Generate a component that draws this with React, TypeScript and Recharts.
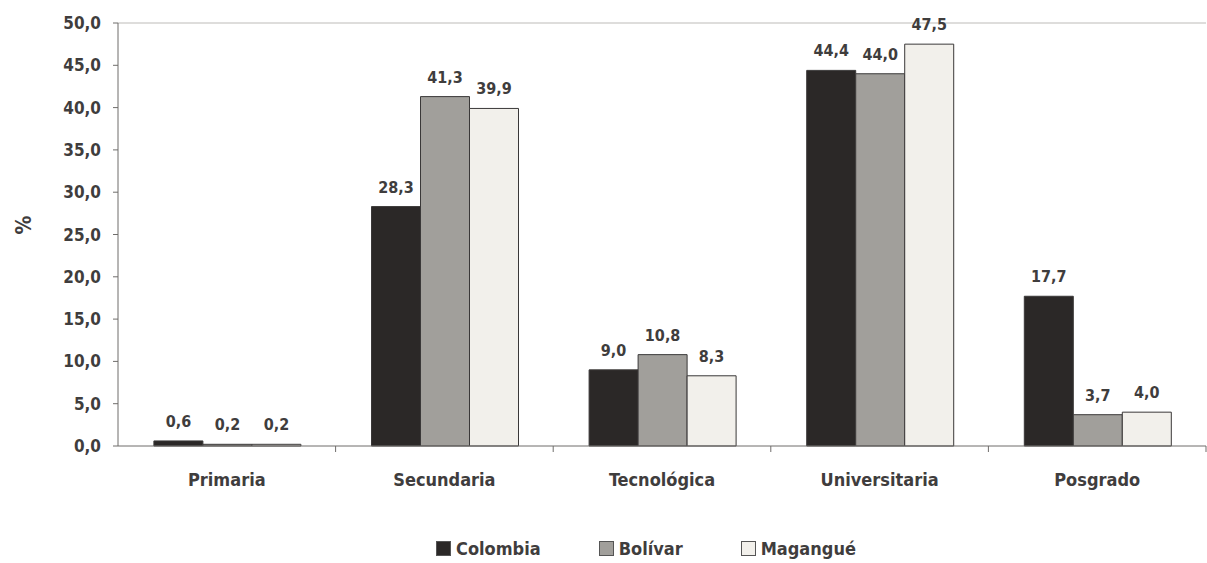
import {
  Bar,
  BarChart,
  LabelList,
  Legend,
  ReferenceLine,
  XAxis,
  YAxis,
} from 'recharts';

const categories = ['Primaria', 'Secundaria', 'Tecnológica', 'Universitaria', 'Posgrado'];
const colombia = [0.6, 28.3, 9.0, 44.4, 17.7];
const bolivar = [0.2, 41.3, 10.8, 44.0, 3.7];
const magangue = [0.2, 39.9, 8.3, 47.5, 4.0];
const yTicks = [0, 5, 10, 15, 20, 25, 30, 35, 40, 45, 50];

const seriesInfo = [
  { key: 'colombia', name: 'Colombia', fill: '#2b2827' },
  { key: 'bolivar', name: 'Bolívar', fill: '#a19f9b' },
  { key: 'magangue', name: 'Magangué', fill: '#f2f0eb' },
];

const data = categories.map((cat, i) => ({
  cat,
  colombia: colombia[i],
  bolivar: bolivar[i],
  magangue: magangue[i],
}));

const FONT = '"Liberation Sans Narrow", "DejaVu Sans Condensed", "Roboto", sans-serif';
const TEXT = '#3f3d3d';
const AXIS = '#6f6d6b';

const fmt = (v: number) => v.toFixed(1).replace('.', ',');

const CategoryTick = (props: any) => {
  const { x, y, payload } = props;
  const half = payload?.offset ?? 108.8;
  return (
    <g>
      <line x1={x + half} x2={x + half} y1={y - 8} y2={y - 2} stroke={AXIS} />
      <text
        x={x}
        y={y + 27}
        textAnchor="middle"
        dominantBaseline="middle"
        fill={TEXT}
        fontFamily={FONT}
        fontWeight={700}
        fontSize={18}
      >
        {payload.value}
      </text>
    </g>
  );
};

const LegendContent = () => (
  <div
    style={{
      display: 'flex',
      justifyContent: 'center',
      gap: 58,
      fontFamily: FONT,
      fontWeight: 700,
      fontSize: 18,
      color: TEXT,
      paddingLeft: 86,
      paddingTop: 12,
    }}
  >
    {seriesInfo.map((s) => (
      <span key={s.key} style={{ display: 'flex', alignItems: 'center', gap: 5 }}>
        <span
          style={{
            display: 'inline-block',
            width: 13,
            height: 13,
            background: s.fill,
            border: '1px solid #555',
          }}
        />
        {s.name}
      </span>
    ))}
  </div>
);

export default function App() {
  return (
    <div style={{ width: 1207, height: 563, background: '#fff' }}>
      <style>{`body{margin:0}`}</style>
      <BarChart
        width={1207}
        height={563}
        data={data}
        margin={{ top: 23, right: 1, left: 0, bottom: 0 }}
        barCategoryGap="16.5%"
        barGap={0}
      >
        <XAxis
          dataKey="cat"
          axisLine={{ stroke: AXIS }}
          tickLine={false}
          tick={<CategoryTick />}
          height={80}
          interval={0}
        />
        <YAxis
          domain={[0, 50]}
          ticks={yTicks}
          tickFormatter={fmt}
          width={118}
          axisLine={{ stroke: AXIS }}
          tickLine={{ stroke: AXIS }}
          tickSize={5}
          tickMargin={12}
          tick={{ fill: TEXT, fontFamily: FONT, fontWeight: 700, fontSize: 17 }}
          label={{
            value: '%',
            angle: -90,
            position: 'insideLeft',
            offset: 24,
            style: { fill: TEXT, fontFamily: FONT, fontWeight: 700, fontSize: 21 },
          }}
        />
        <YAxis
          yAxisId="r"
          orientation="right"
          width={0}
          tick={false}
          tickLine={false}
          axisLine={{ stroke: '#cfcdca' }}
        />
        <ReferenceLine y={50} stroke="#bdbbb8" />
        <Legend verticalAlign="bottom" height={37} content={<LegendContent />} />
        {seriesInfo.map((s) => (
          <Bar
            key={s.key}
            dataKey={s.key}
            name={s.name}
            fill={s.fill}
            stroke="#3a3838"
            strokeWidth={1}
            isAnimationActive={false}
          >
            <LabelList
              dataKey={s.key}
              position="top"
              offset={14}
              formatter={(v: any) => fmt(Number(v))}
              style={{ fill: TEXT, fontFamily: FONT, fontWeight: 700, fontSize: 16 }}
            />
          </Bar>
        ))}
      </BarChart>
    </div>
  );
}
